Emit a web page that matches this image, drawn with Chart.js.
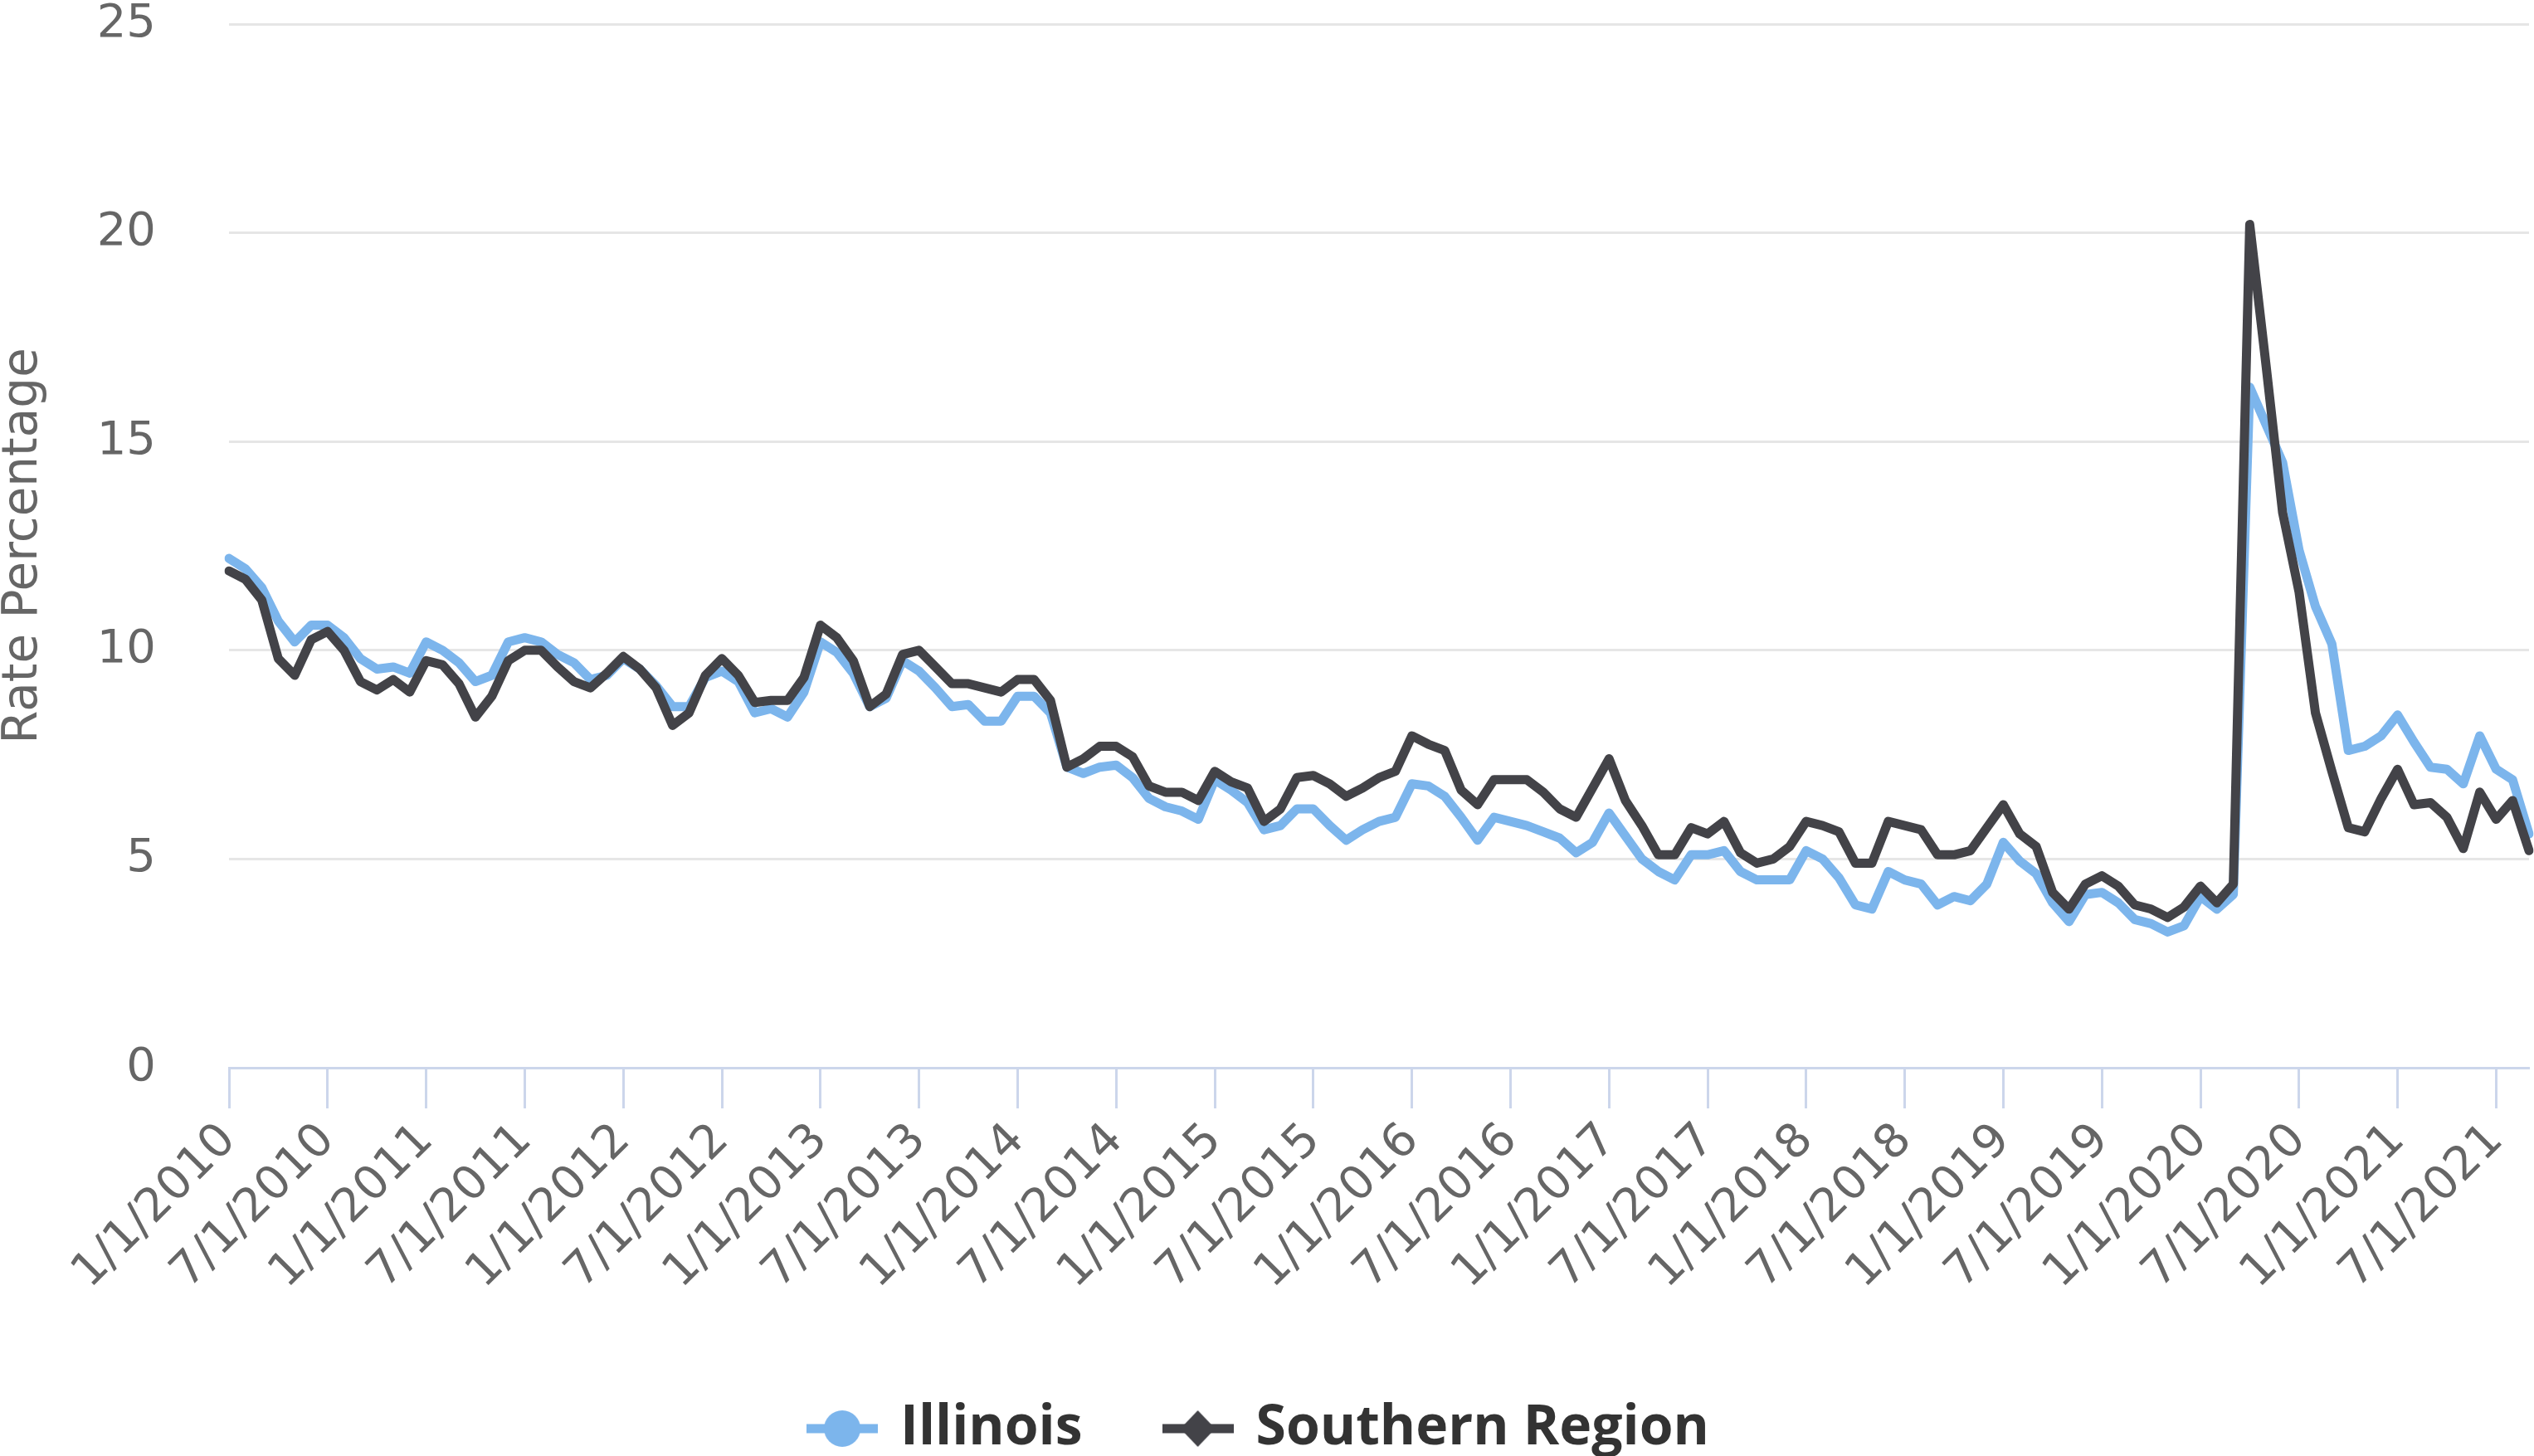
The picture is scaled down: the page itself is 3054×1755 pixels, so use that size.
<!DOCTYPE html>
<html>
<head>
<meta charset="utf-8">
<script src="https://cdn.jsdelivr.net/npm/chart.js@4.4.1/dist/chart.umd.min.js"></script>
<style>
  html, body { margin: 0; padding: 0; background: #ffffff; }
  #wrap { width: 3054px; height: 1755px; }
</style>
</head>
<body>
<div id="wrap"><canvas id="rateChart"></canvas></div>
<script>
// monthly categories, Jan 2010 - Sep 2021
const categories = [
  "1/1/2010","2/1/2010","3/1/2010","4/1/2010","5/1/2010","6/1/2010","7/1/2010","8/1/2010","9/1/2010","10/1/2010","11/1/2010","12/1/2010",
  "1/1/2011","2/1/2011","3/1/2011","4/1/2011","5/1/2011","6/1/2011","7/1/2011","8/1/2011","9/1/2011","10/1/2011","11/1/2011","12/1/2011",
  "1/1/2012","2/1/2012","3/1/2012","4/1/2012","5/1/2012","6/1/2012","7/1/2012","8/1/2012","9/1/2012","10/1/2012","11/1/2012","12/1/2012",
  "1/1/2013","2/1/2013","3/1/2013","4/1/2013","5/1/2013","6/1/2013","7/1/2013","8/1/2013","9/1/2013","10/1/2013","11/1/2013","12/1/2013",
  "1/1/2014","2/1/2014","3/1/2014","4/1/2014","5/1/2014","6/1/2014","7/1/2014","8/1/2014","9/1/2014","10/1/2014","11/1/2014","12/1/2014",
  "1/1/2015","2/1/2015","3/1/2015","4/1/2015","5/1/2015","6/1/2015","7/1/2015","8/1/2015","9/1/2015","10/1/2015","11/1/2015","12/1/2015",
  "1/1/2016","2/1/2016","3/1/2016","4/1/2016","5/1/2016","6/1/2016","7/1/2016","8/1/2016","9/1/2016","10/1/2016","11/1/2016","12/1/2016",
  "1/1/2017","2/1/2017","3/1/2017","4/1/2017","5/1/2017","6/1/2017","7/1/2017","8/1/2017","9/1/2017","10/1/2017","11/1/2017","12/1/2017",
  "1/1/2018","2/1/2018","3/1/2018","4/1/2018","5/1/2018","6/1/2018","7/1/2018","8/1/2018","9/1/2018","10/1/2018","11/1/2018","12/1/2018",
  "1/1/2019","2/1/2019","3/1/2019","4/1/2019","5/1/2019","6/1/2019","7/1/2019","8/1/2019","9/1/2019","10/1/2019","11/1/2019","12/1/2019",
  "1/1/2020","2/1/2020","3/1/2020","4/1/2020","5/1/2020","6/1/2020","7/1/2020","8/1/2020","9/1/2020","10/1/2020","11/1/2020","12/1/2020",
  "1/1/2021","2/1/2021","3/1/2021","4/1/2021","5/1/2021","6/1/2021","7/1/2021","8/1/2021","9/1/2021"
];

// labels shown on the x axis (every six months)
const tickLabels = [
  "1/1/2010","7/1/2010","1/1/2011","7/1/2011","1/1/2012","7/1/2012","1/1/2013","7/1/2013",
  "1/1/2014","7/1/2014","1/1/2015","7/1/2015","1/1/2016","7/1/2016","1/1/2017","7/1/2017",
  "1/1/2018","7/1/2018","1/1/2019","7/1/2019","1/1/2020","7/1/2020","1/1/2021","7/1/2021"
];

const yTicks = [0, 5, 10, 15, 20, 25];

const illinois = [
  12.2, 11.95, 11.5, 10.7, 10.2, 10.6, 10.6, 10.3, 9.8, 9.55, 9.6, 9.45,
  10.2, 10.0, 9.7, 9.25, 9.4, 10.2, 10.3, 10.2, 9.9, 9.7, 9.3, 9.4,
  9.8, 9.55, 9.15, 8.65, 8.65, 9.35, 9.5, 9.25, 8.5, 8.6, 8.4, 9.0,
  10.2, 9.95, 9.45, 8.65, 8.85, 9.75, 9.5, 9.1, 8.65, 8.7, 8.3, 8.3,
  8.9, 8.9, 8.5, 7.2, 7.05, 7.2, 7.25, 6.95, 6.45, 6.25, 6.15, 5.95,
  6.9, 6.65, 6.35, 5.7, 5.8, 6.2, 6.2, 5.8, 5.45, 5.7, 5.9, 6.0,
  6.8, 6.75, 6.5, 6.0, 5.45, 6.0, 5.9, 5.8, 5.65, 5.5, 5.15, 5.4,
  6.1, 5.55, 5.0, 4.7, 4.5, 5.1, 5.1, 5.2, 4.7, 4.5, 4.5, 4.5,
  5.2, 5.0, 4.55, 3.9, 3.8, 4.7, 4.5, 4.4, 3.9, 4.1, 4.0, 4.4,
  5.4, 4.95, 4.65, 3.95, 3.5, 4.15, 4.2, 3.95, 3.55, 3.45, 3.25, 3.4,
  4.1, 3.8, 4.15, 16.3, 15.4, 14.5, 12.4, 11.05, 10.15, 7.6, 7.7, 7.95,
  8.45, 7.8, 7.2, 7.15, 6.8, 7.95, 7.15, 6.9, 5.6
];

const southernRegion = [
  11.9, 11.7, 11.2, 9.8, 9.4, 10.25, 10.45, 10.0, 9.25, 9.05, 9.3, 9.0,
  9.75, 9.65, 9.2, 8.4, 8.9, 9.75, 10.0, 10.0, 9.6, 9.25, 9.1, 9.45,
  9.85, 9.55, 9.1, 8.2, 8.5, 9.4, 9.8, 9.4, 8.75, 8.8, 8.8, 9.35,
  10.6, 10.3, 9.75, 8.65, 8.95, 9.9, 10.0, 9.6, 9.2, 9.2, 9.1, 9.0,
  9.3, 9.3, 8.8, 7.2, 7.4, 7.7, 7.7, 7.45, 6.75, 6.6, 6.6, 6.4,
  7.1, 6.85, 6.7, 5.9, 6.2, 6.95, 7.0, 6.8, 6.5, 6.7, 6.95, 7.1,
  7.95, 7.75, 7.6, 6.65, 6.3, 6.9, 6.9, 6.9, 6.6, 6.2, 6.0, 6.7,
  7.4, 6.4, 5.8, 5.1, 5.1, 5.75, 5.6, 5.9, 5.15, 4.9, 5.0, 5.3,
  5.9, 5.8, 5.65, 4.9, 4.9, 5.9, 5.8, 5.7, 5.1, 5.1, 5.2, 5.75,
  6.3, 5.6, 5.3, 4.2, 3.8, 4.4, 4.6, 4.35, 3.9, 3.8, 3.6, 3.85,
  4.35, 3.95, 4.4, 20.2, 16.8, 13.3, 11.4, 8.5, 7.1, 5.75, 5.65, 6.45,
  7.15, 6.3, 6.35, 6.0, 5.25, 6.6, 5.95, 6.4, 5.2
];

const blue = "#7cb5ec";
const dark = "#434348";

// legend symbol: short line with a marker in the middle
function makeLegendSymbol(color, shape) {
  const c = document.createElement("canvas");
  c.width = 86;
  c.height = 48;
  const g = c.getContext("2d");
  g.strokeStyle = color;
  g.lineWidth = 11;
  g.beginPath();
  g.moveTo(0, 24);
  g.lineTo(86, 24);
  g.stroke();
  g.fillStyle = color;
  g.beginPath();
  if (shape === "circle") {
    g.arc(43, 24, 22, 0, Math.PI * 2);
  } else {
    g.moveTo(43, 2);
    g.lineTo(64, 24);
    g.lineTo(43, 46);
    g.lineTo(22, 24);
    g.closePath();
  }
  g.fill();
  return c;
}

const symbols = [makeLegendSymbol(blue, "circle"), makeLegendSymbol(dark, "diamond")];

// nudge the legend a little to the left
const legendNudge = {
  id: "legendNudge",
  afterLayout(chart) {
    if (chart.legend) {
      chart.legend.left -= 8;
      chart.legend.right -= 8;
    }
  },
};

Chart.defaults.font.family = "'DejaVu Sans', sans-serif";

const ctx = document.getElementById("rateChart").getContext("2d");
new Chart(ctx, {
  type: "line",
  data: {
    labels: categories,
    datasets: [
      {
        label: "Illinois",
        data: illinois,
        borderColor: blue,
        backgroundColor: blue,
        borderWidth: 11,
        pointRadius: 0,
        borderJoinStyle: "round",
        borderCapStyle: "round",
        tension: 0,
        fill: false,
        order: 1,
      },
      {
        label: "Southern Region",
        data: southernRegion,
        borderColor: dark,
        backgroundColor: dark,
        borderWidth: 11,
        pointRadius: 0,
        borderJoinStyle: "round",
        borderCapStyle: "round",
        tension: 0,
        fill: false,
        order: 0,
      },
    ],
  },
  plugins: [legendNudge],
  options: {
    responsive: true,
    maintainAspectRatio: false,
    devicePixelRatio: 1,
    animation: false,
    layout: {
      padding: { top: 29, right: 0, bottom: -10, left: 0 },
    },
    plugins: {
      tooltip: { enabled: false },
      legend: {
        display: true,
        position: "bottom",
        labels: {
          usePointStyle: true,
          pointStyleWidth: 74,
          padding: 102,
          color: "#333333",
          font: { family: "'Open Sans', sans-serif", size: 66, weight: "bold" },
          generateLabels: function (chart) {
            return chart.data.datasets.map(function (ds, i) {
              return {
                text: ds.label,
                pointStyle: symbols[i],
                fillStyle: ds.borderColor,
                strokeStyle: ds.borderColor,
                lineWidth: 0,
                hidden: false,
                datasetIndex: i,
                fontColor: "#333333",
              };
            });
          },
        },
      },
    },
    scales: {
      x: {
        type: "category",
        offset: false,
        afterFit: function (scale) {
          scale.height = 300;
          scale.paddingLeft = 0;
          scale.paddingRight = 6;
        },
        grid: {
          display: true,
          drawOnChartArea: false,
          drawTicks: true,
          tickLength: 49,
          tickWidth: 3,
          tickColor: function (c) {
            return tickLabels.includes(categories[c.index]) ? "#ccd6eb" : "rgba(0,0,0,0)";
          },
        },
        border: { display: true, color: "#ccd6eb", width: 3 },
        ticks: {
          autoSkip: false,
          minRotation: 45,
          maxRotation: 45,
          padding: 6,
          color: "#666666",
          font: { size: 56 },
          callback: function (value, index) {
            const lab = categories[index];
            return tickLabels.includes(lab) ? lab : "";
          },
        },
      },
      y: {
        min: yTicks[0],
        max: yTicks[yTicks.length - 1],
        afterFit: function (scale) {
          scale.width = 276;
          scale.paddingTop = 0;
          scale.paddingBottom = 0;
        },
        grid: {
          color: "#e6e6e6",
          lineWidth: 3,
          drawTicks: false,
        },
        border: { display: false },
        ticks: {
          stepSize: yTicks[1] - yTicks[0],
          padding: 88,
          color: "#666666",
          font: { size: 56, lineHeight: 1.0 },
        },
        title: {
          display: true,
          text: "Rate Percentage",
          color: "#666666",
          padding: 0,
          font: { size: 58, lineHeight: 1.0 },
        },
      },
    },
  },
});
</script>
</body>
</html>
